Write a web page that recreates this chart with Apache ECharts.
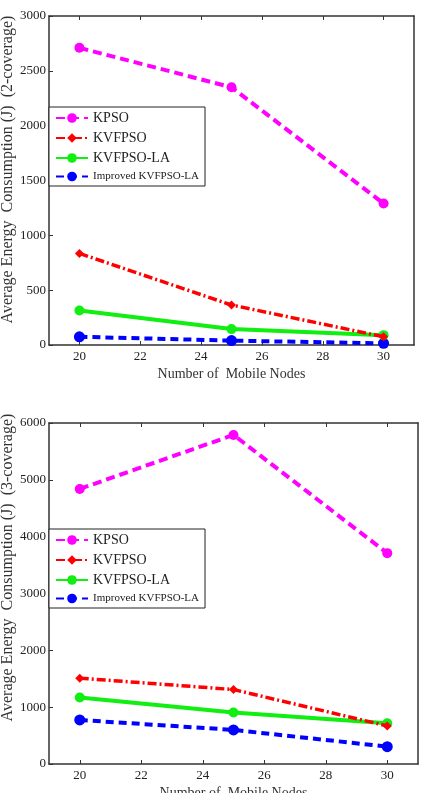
<!DOCTYPE html>
<html>
<head>
<meta charset="utf-8">
<script src="https://cdn.jsdelivr.net/npm/echarts@6/dist/echarts.min.js"></script>
<style>
  html, body { margin: 0; padding: 0; background: #fff; }
  #chart { width: 431px; height: 793px; }
</style>
</head>
<body>
<div id="chart"></div>
<script>
// number of mobile nodes (x)
const nodes = [20, 25, 30]
const xTicks = [20, 22, 24, 26, 28, 30]
const seriesNames = ['KPSO', 'KVFPSO', 'KVFPSO-LA', 'Improved KVFPSO-LA']

// 2-coverage (top chart)
const kpso2 = [2710, 2350, 1290]
const kvfpso2 = [835, 365, 75]
const kvfpsoLa2 = [315, 145, 90]
const improved2 = [75, 40, 15]

// 3-coverage (bottom chart)
const kpso3 = [4840, 5790, 3710]
const kvfpso3 = [1510, 1310, 670]
const kvfpsoLa3 = [1170, 905, 715]
const improved3 = [775, 600, 305]

const serif = 'Liberation Serif, Times New Roman, serif'
const axisColor = '#333'

const styles = [
  {color: '#ff00ff', type: [9, 5], width: 4, symbol: 'circle', size: 10},
  {color: '#ff0000', type: [9, 3, 2, 3], width: 3.5, symbol: 'diamond', size: 9},
  {color: '#11ee11', type: 'solid', width: 4, symbol: 'circle', size: 10},
  {color: '#0000ff', type: [8, 5], width: 4, symbol: 'circle', size: 11}
]

function pairs (vals) {
  return nodes.map((n, i) => [n, vals[i]])
}

function makeSeries (list, gridIdx) {
  return list.map((vals, i) => ({
    name: seriesNames[i],
    type: 'line',
    xAxisIndex: gridIdx * 2,
    yAxisIndex: gridIdx * 2,
    data: pairs(vals),
    symbol: styles[i].symbol,
    symbolSize: styles[i].size,
    itemStyle: {color: styles[i].color},
    lineStyle: {color: styles[i].color, type: styles[i].type, width: styles[i].width},
    z: 10 - i
  }))
}

const plain = v => String(v)

function bottomX (gridIdx, name) {
  return {
    type: 'value', gridIndex: gridIdx, position: 'bottom',
    min: 19, max: 31,
    name: name, nameLocation: 'middle', nameGap: 22,
    nameTextStyle: {fontFamily: serif, fontSize: 14, color: '#333'},
    axisLine: {onZero: false, lineStyle: {color: axisColor, width: 1.5}},
    axisTick: {inside: true, length: 4, customValues: xTicks, lineStyle: {color: axisColor}},
    axisLabel: {customValues: xTicks, formatter: plain, fontFamily: serif, fontSize: 13, color: '#222', margin: 5},
    splitLine: {show: false}
  }
}

function topX (gridIdx) {
  return {
    type: 'value', gridIndex: gridIdx, position: 'top',
    min: 19, max: 31,
    axisLine: {onZero: false, lineStyle: {color: axisColor, width: 1.5}},
    axisTick: {inside: true, length: 4, customValues: xTicks, lineStyle: {color: axisColor}},
    axisLabel: {show: false},
    splitLine: {show: false}
  }
}

function leftY (gridIdx, max, interval, name, shift) {
  return {
    type: 'value', gridIndex: gridIdx, position: 'left',
    min: 0, max: max, interval: interval,
    name: name, nameLocation: 'middle', nameGap: 33, nameMoveOverlap: false,
    nameTextStyle: {fontFamily: serif, fontSize: 16, color: '#333', padding: [0, 0, 0, shift]},
    axisLine: {show: true, onZero: false, lineStyle: {color: axisColor, width: 1.5}},
    axisTick: {show: true, inside: true, length: 4, lineStyle: {color: axisColor}},
    axisLabel: {formatter: plain, fontFamily: serif, fontSize: 13, color: '#222', margin: 3},
    splitLine: {show: false}
  }
}

function rightY (gridIdx, max, interval) {
  return {
    type: 'value', gridIndex: gridIdx, position: 'right',
    min: 0, max: max, interval: interval,
    axisLine: {show: true, onZero: false, lineStyle: {color: axisColor, width: 1.5}},
    axisTick: {show: false},
    axisLabel: {show: false},
    splitLine: {show: false}
  }
}

function makeLegend (top) {
  return {
    orient: 'vertical',
    left: 49, top: top,
    data: seriesNames,
    itemWidth: 32, itemHeight: 12, itemGap: 6,
    padding: [4, 6, 4, 6],
    borderColor: '#222', borderWidth: 1,
    backgroundColor: '#fff',
    selectedMode: false,
    formatter: name => name.indexOf('Improved') === 0 ? '{s|' + name + '}' : name,
    textStyle: {
      fontFamily: serif, fontSize: 14, color: '#222',
      rich: {s: {fontFamily: serif, fontSize: 11, color: '#222'}}
    }
  }
}

const chart = echarts.init(document.getElementById('chart'))
const option = {
  animation: false,
  backgroundColor: '#fff',
  grid: [
    {left: 49, top: 16, width: 365, height: 329, containLabel: false, outerBoundsMode: 'none'},
    {left: 49, top: 423, width: 369, height: 341, containLabel: false, outerBoundsMode: 'none'}
  ],
  legend: [makeLegend(107), makeLegend(529)],
  xAxis: [
    bottomX(0, 'Number of  Mobile Nodes'), topX(0),
    bottomX(1, 'Number of  Mobile Nodes'), topX(1)
  ],
  yAxis: [
    leftY(0, 3000, 500, 'Average Energy  Consumption (J)  (2-coverage)', 22), rightY(0, 3000, 500),
    leftY(1, 6000, 1000, 'Average Energy  Consumption (J)  (3-coverage)', 52), rightY(1, 6000, 1000)
  ],
  series: makeSeries([kpso2, kvfpso2, kvfpsoLa2, improved2], 0)
    .concat(makeSeries([kpso3, kvfpso3, kvfpsoLa3, improved3], 1))
}
chart.setOption(option, true)
</script>
</body>
</html>
